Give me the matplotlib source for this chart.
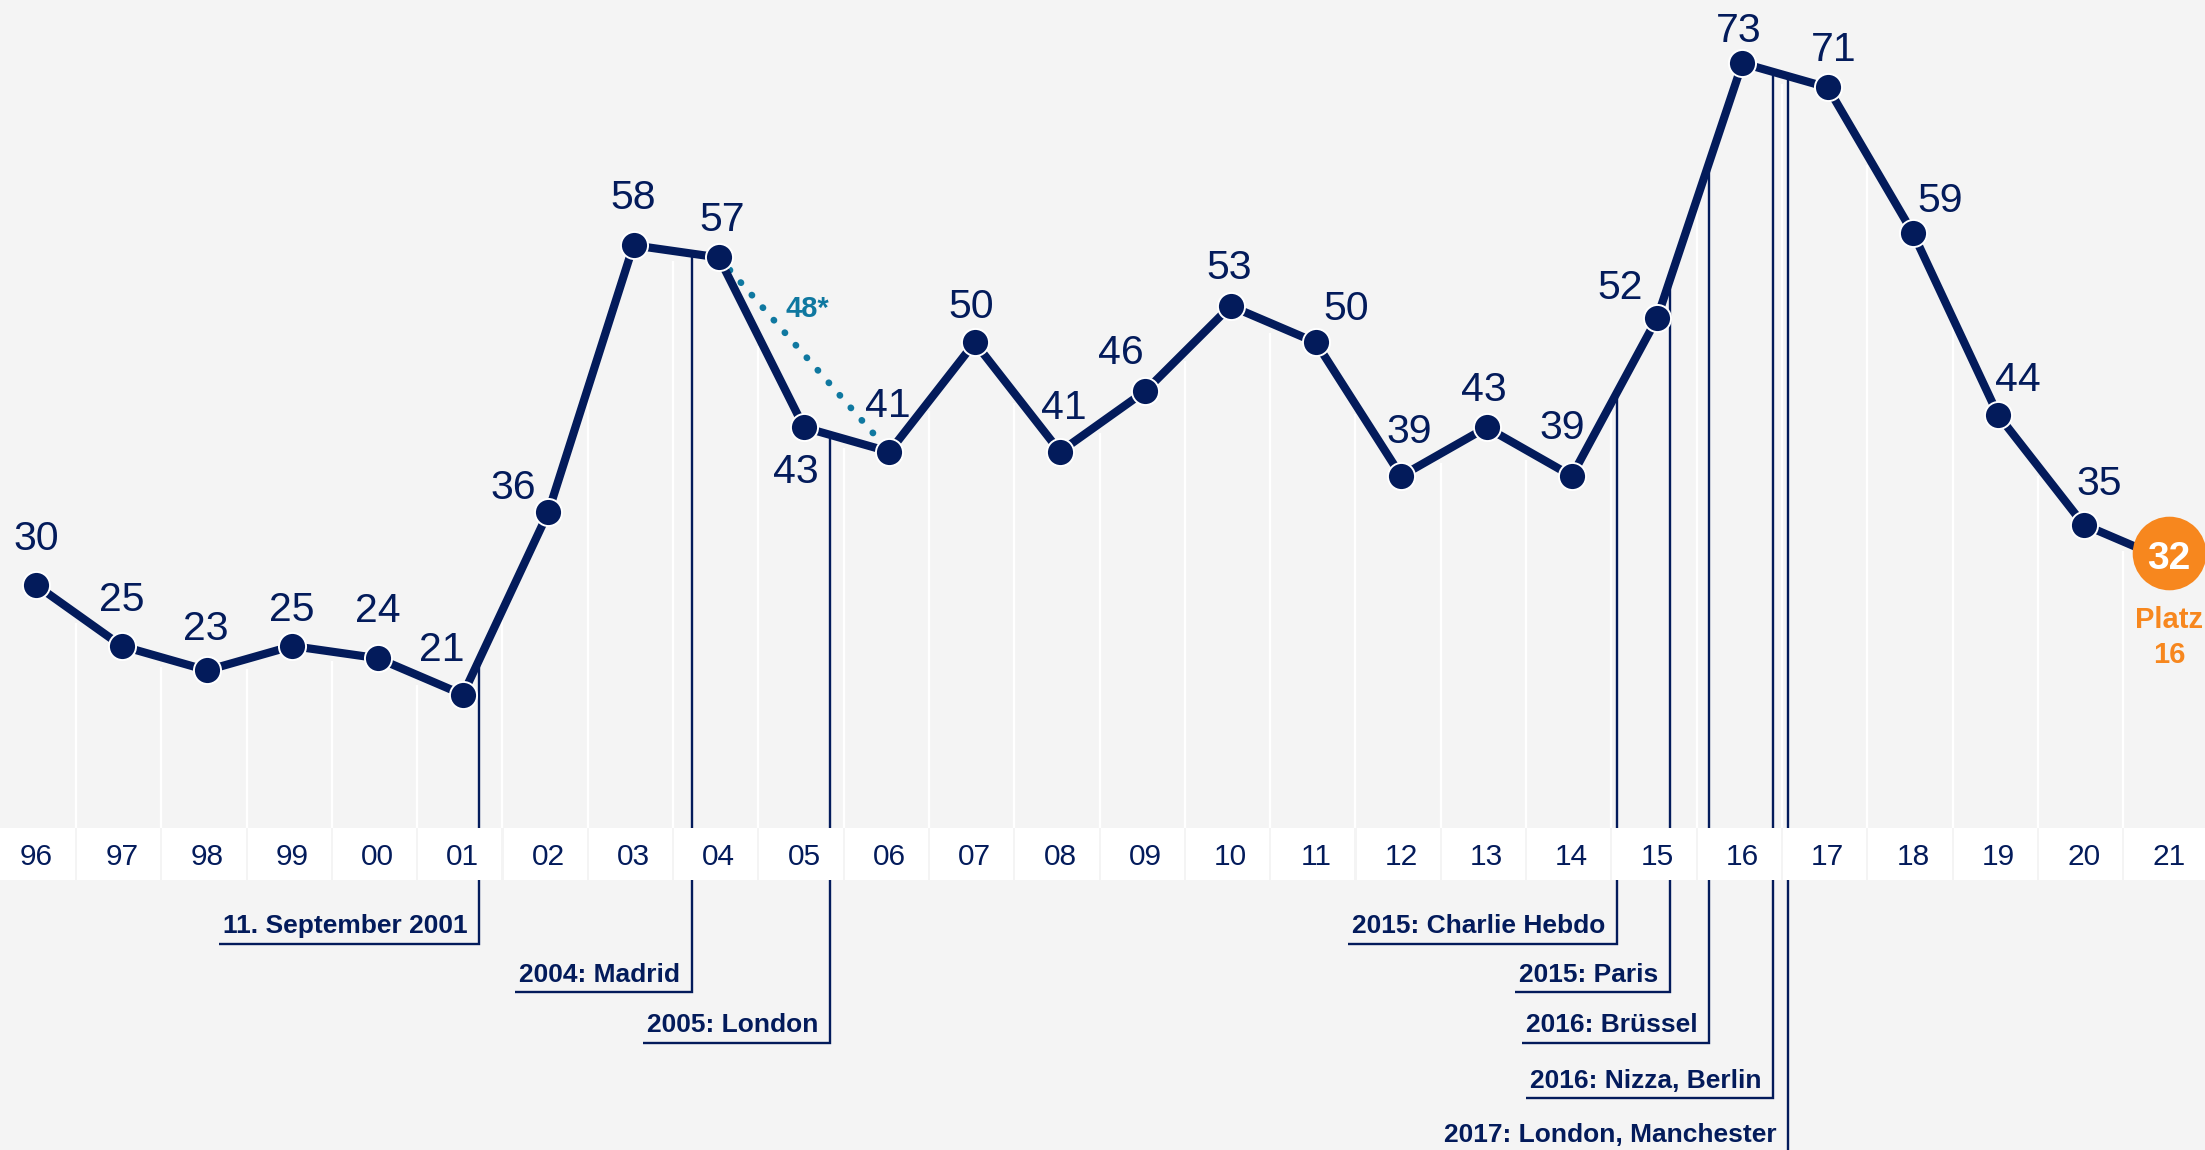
import matplotlib as mpl
import matplotlib.pyplot as plt
import matplotlib.transforms as mtrans
import numpy as np

plt.rcParams["font.family"] = ["Liberation Sans", "DejaVu Sans"]

NAVY = '#031b5b'
TEAL = '#0f78a0'
ORANGE = '#f7871e'
BG = '#f4f4f4'

# data
years = ['96', '97', '98', '99', '00', '01', '02', '03', '04', '05', '06', '07', '08',
         '09', '10', '11', '12', '13', '14', '15', '16', '17', '18', '19', '20', '21']
values = [30, 25, 23, 25, 24, 21, 36, 58, 57, 43, 41, 50, 41,
          46, 53, 50, 39, 43, 39, 52, 73, 71, 59, 44, 35, 32]

# alternative figure for 2005 (dotted)
alt_idx = [8, 10]
alt_values = [57, 41]
alt_label_idx = 9
alt_label = '48*'
alt_label_value = 48

rank_text = 'Platz\n16'

# attacks, position on the year axis
event_labels = ['11. September 2001', '2004: Madrid', '2005: London',
                '2015: Charlie Hebdo', '2015: Paris', '2016: Brüssel',
                '2016: Nizza, Berlin', '2017: London, Manchester']
event_pos = [5.185, 7.68, 9.30, 18.53, 19.15, 19.61, 20.36, 20.54]
event_tier = [0, 1, 2, 0, 1, 2, 3, 4]

# layout (pixels of a 2205x1150 canvas)
W_PX, H_PX = 2205, 1150
X0_PX, STEP_PX = 36.4, 85.3
Y0_PX, UNIT_PX = 949.6, 12.143
BAND_TOP, BAND_BOT = 828, 880
TIER_PX = [943.5, 992, 1043, 1098, 1152]

# value label offsets (dx, dy of baseline) in pixels
label_off = [(0, 35), (0, 35), (-1, 30), (-1, 25), (0, 36), (-21, 34), (-35, 13),
             (0, 36), (3, 26), (-8, -56), (-2, 35), (-3, 24), (4, 33), (-24, 27),
             (-1, 27), (30, 22), (8, 33), (-3, 26), (-10, 37), (-37, 19), (-4, 21),
             (6, 26), (27, 21), (20, 24), (16, 30)]


def px_to_v(y_px):
    return (Y0_PX - y_px) / UNIT_PX


fig = plt.figure(figsize=(W_PX / 100, H_PX / 100), dpi=100)
fig.patch.set_facecolor(BG)
ax = fig.add_axes([0, 0, 1, 1])
ax.set_xlim(-X0_PX / STEP_PX, (W_PX - X0_PX) / STEP_PX)
ax.set_ylim(px_to_v(H_PX), px_to_v(0))
ax.axis('off')

x = np.arange(len(years))
vals = np.array(values, dtype=float)

# white column separators up to the line
bounds = x[:-1] + 0.464
tops = np.interp(bounds, x, vals) - 0.8
ax.vlines(bounds, px_to_v(BAND_TOP), tops, color='white', lw=1.65, zorder=1)

# event annotations
renderer = fig.canvas.get_renderer()
inv = ax.transData.inverted()
for lab, ex, tier in zip(event_labels, event_pos, event_tier):
    ty = px_to_v(TIER_PX[tier])
    top = np.interp(ex, x, vals)
    t = ax.annotate(lab, (ex, ty), xytext=(-11.5, 10.5), textcoords='offset pixels',
                    ha='right', va='baseline', fontsize=19, fontweight='bold',
                    color=NAVY, zorder=2, annotation_clip=False)
    bb = t.get_window_extent(renderer)
    left = inv.transform((bb.x0 - 4, 0))[0]
    ax.plot([left, ex, ex], [ty, ty, top], color=NAVY, lw=1.7,
            solid_joinstyle='miter', solid_capstyle='butt', zorder=2)

# year band
ax.bar(x - 0.036, px_to_v(BAND_BOT) - px_to_v(BAND_TOP), bottom=px_to_v(BAND_TOP),
       width=0.975, color='white', zorder=3)
for i, yr in enumerate(years):
    ax.text(i, px_to_v(865), yr, ha='center', va='baseline', fontsize=21.5,
            color=NAVY, zorder=4)

# dotted alternative
ax.plot(alt_idx, alt_values, color=TEAL, lw=4.8, linestyle=(0, (0.05, 2.45)),
        dash_capstyle='round', zorder=5)
ax.annotate(alt_label, (alt_label_idx, alt_label_value), xytext=(3, 49.5),
            textcoords='offset pixels', ha='center', va='baseline', fontsize=21,
            fontweight='bold', color=TEAL, zorder=6)

# main line
ax.plot(x, vals, color=NAVY, lw=5.9, solid_joinstyle='round', zorder=6)
ax.plot(x[:-1], vals[:-1], 'o', color=NAVY, ms=19.5, mec='white', mew=1.4, zorder=7)

for i in range(len(values) - 1):
    dx, dy = label_off[i]
    ax.annotate(str(values[i]), (x[i], vals[i]), xytext=(dx, dy),
                textcoords='offset pixels', ha='center', va='baseline',
                fontsize=29.5, color=NAVY, zorder=8)

# latest value
shift = mtrans.offset_copy(ax.transData, fig=fig, x=0, y=8, units='dots')
ax.plot(x[-1], vals[-1], 'o', color=ORANGE, ms=53, mec=ORANGE, mew=0,
        transform=shift, zorder=8)
ax.annotate(str(values[-1]), (x[-1], vals[-1]), xytext=(0, -8),
            textcoords='offset pixels', ha='center', va='baseline', fontsize=28,
            fontweight='bold', color='white', zorder=9)
r1, r2 = rank_text.split('\n')
ax.annotate(r1, (x[-1], vals[-1]), xytext=(0, -67), textcoords='offset pixels',
            ha='center', va='baseline', fontsize=21, fontweight='bold',
            color=ORANGE, zorder=9)
ax.annotate(r2, (x[-1], vals[-1]), xytext=(0, -102), textcoords='offset pixels',
            ha='center', va='baseline', fontsize=21, fontweight='bold',
            color=ORANGE, zorder=9)

fig.savefig('out.png', dpi=100, facecolor=BG)
